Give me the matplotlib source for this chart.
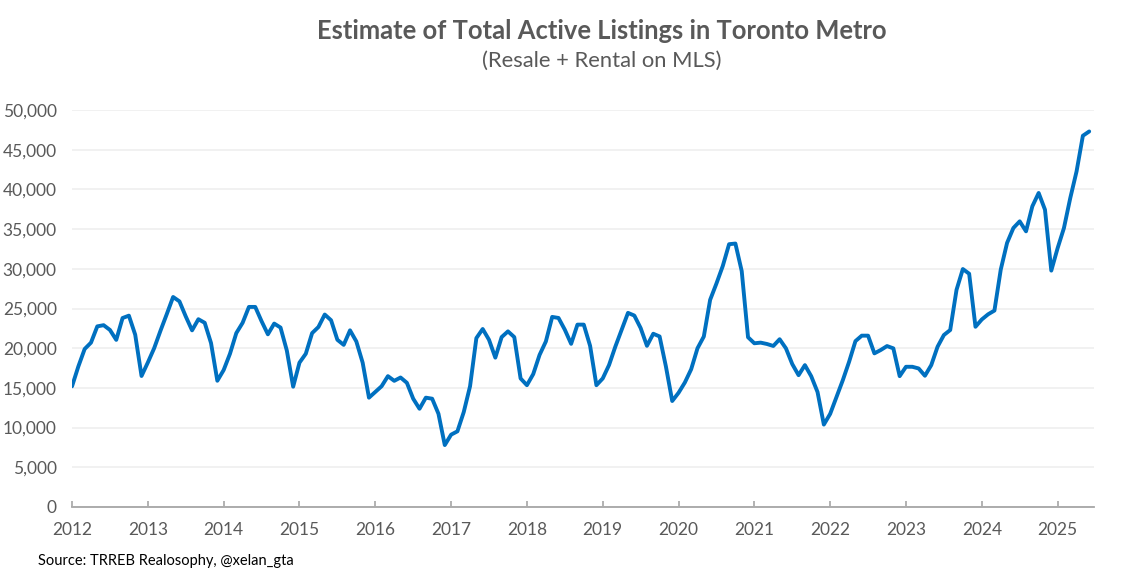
import matplotlib
matplotlib.use("Agg")
import matplotlib.pyplot as plt
from matplotlib.ticker import FuncFormatter
import numpy as np

# monthly estimates, Jan of each year .. Dec (2025 runs to Jun)
y2012 = [15200, 17700, 19900, 20700, 22750, 22900, 22300, 21050, 23800, 24100, 21700, 16500]
y2013 = [18200, 20000, 22200, 24300, 26450, 25900, 24000, 22250, 23650, 23200, 20650, 15900]
y2014 = [17250, 19300, 21900, 23200, 25200, 25200, 23400, 21750, 23100, 22600, 19700, 15150]
y2015 = [18180, 19300, 21900, 22670, 24240, 23520, 21060, 20420, 22250, 20850, 18180, 13770]
y2016 = [14490, 15210, 16480, 15890, 16310, 15640, 13640, 12370, 13770, 13640, 11740, 7800]
y2017 = [9110, 9530, 11950, 15210, 21270, 22420, 21060, 18810, 21400, 22120, 21400, 16190]
y2018 = [15340, 16740, 19150, 20850, 23940, 23810, 22330, 20550, 22970, 22970, 20300, 15340]
y2019 = [16190, 17880, 20210, 22330, 24450, 24110, 22540, 20300, 21820, 21480, 17700, 13350]
y2020 = [14380, 15680, 17350, 19990, 21470, 26090, 28150, 30350, 33100, 33180, 29710, 21380]
y2021 = [20620, 20700, 20530, 20280, 21130, 19980, 18000, 16600, 17870, 16470, 14480, 10380]
y2022 = [11730, 13850, 15970, 18300, 20890, 21580, 21580, 19350, 19770, 20270, 19980, 16480]
y2023 = [17660, 17660, 17450, 16530, 17870, 20190, 21660, 22290, 27350, 29970, 29380, 22700]
y2024 = [23620, 24270, 24740, 29900, 33260, 35140, 35980, 34720, 37870, 39550, 37450, 29770]
y2025 = [32600, 35130, 38900, 42270, 46760, 47300]

listings = (y2012 + y2013 + y2014 + y2015 + y2016 + y2017 + y2018 + y2019
            + y2020 + y2021 + y2022 + y2023 + y2024 + y2025)
years = list(range(2012, 2026))
x = 2012 + np.arange(len(listings)) / 12.0

GREY = "#595959"
plt.rcParams["font.family"] = ["Lato", "DejaVu Sans"]

fig = plt.figure(figsize=(11.29, 5.73), dpi=100)
ax = fig.add_axes([0.0638, 0.1152, 0.9052, 0.6928])

ax.plot(x, listings, color="#0070C0", lw=2.8, solid_joinstyle="round", solid_capstyle="round")

ax.set_xlim(2012, 2025.48)
ax.set_ylim(0, 50000)
ax.set_yticks(range(0, 50001, 5000))
ax.yaxis.set_major_formatter(FuncFormatter(lambda v, p: f"{int(v):,}"))
ax.set_xticks(years)
ax.set_xticklabels([str(y) for y in years])

ax.grid(axis="y", color="#EFEFEF", lw=1.2)
ax.set_axisbelow(True)
for s in ("top", "right", "left"):
    ax.spines[s].set_visible(False)
ax.spines["bottom"].set_color("#A6A6A6")
ax.spines["bottom"].set_linewidth(1.3)

ax.tick_params(axis="y", length=0, pad=11, labelsize=12.5, labelcolor=GREY)
ax.tick_params(axis="x", direction="in", length=4, width=1.2, color="#A6A6A6",
               pad=11, labelsize=12.5, labelcolor=GREY)

fig.text(0.533, 0.946, "Estimate of Total Active Listings in Toronto Metro",
         ha="center", va="center", fontsize=18.4, fontweight="bold", color=GREY)
fig.text(0.533, 0.893, "(Resale + Rental on MLS)",
         ha="center", va="center", fontsize=15.8, color=GREY)
fig.text(0.0337, 0.021, "Source: TRREB Realosophy, @xelan_gta",
         ha="left", va="center", fontsize=10.5, color="black")

fig.savefig("out.png", dpi=100)
